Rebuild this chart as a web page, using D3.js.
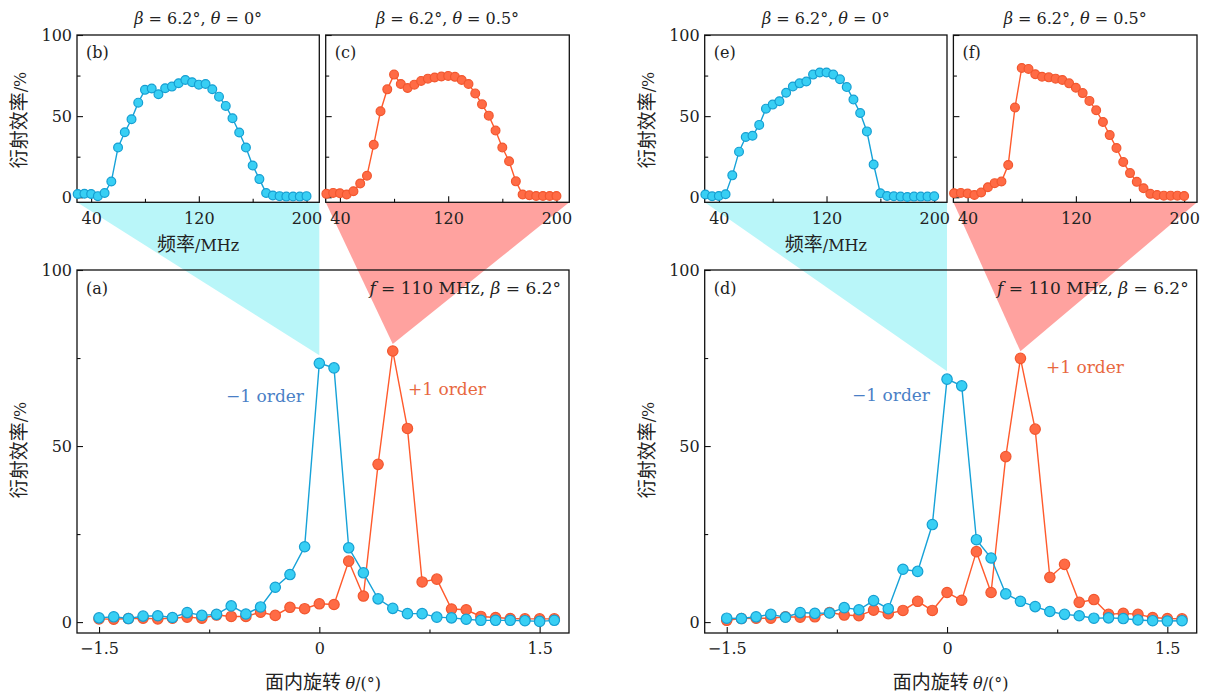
<!doctype html>
<html>
<head>
<meta charset="utf-8"/>
<script src="https://cdnjs.cloudflare.com/ajax/libs/d3/7.8.5/d3.min.js"></script>
<style>
  body { margin: 0; background: #fff; }
  svg { display: block; }
  text { font-family: "DejaVu Serif", "Liberation Serif", serif; fill: #222; }
  .cjk { font-family: "Noto Sans CJK SC", sans-serif; }
  .frame { fill: none; stroke: #111; stroke-width: 1.3px; }
  .tick line { stroke: #111; stroke-width: 1.1px; }
</style>
</head>
<body>
<svg width="1205" height="695"></svg>
<script>
// ---- data ----
var theta = [-1.5,-1.4,-1.3,-1.2,-1.1,-1.0,-0.9,-0.8,-0.7,-0.6,-0.5,-0.4,-0.3,-0.2,-0.1,
             0,0.1,0.2,0.3,0.4,0.5,0.6,0.7,0.8,0.9,1.0,1.1,1.2,1.3,1.4,1.5,1.6];
var freq = [30,35,40,45,50,55,60,65,70,75,80,85,90,95,100,105,110,115,120,125,
            130,135,140,145,150,155,160,165,170,175,180,185,190,195,200];

// (a) and (d): efficiency vs in-plane rotation, f = 110 MHz
var aMinus1 = [1.2,1.5,1.0,1.7,1.8,1.3,2.7,1.9,2.2,4.6,2.3,4.3,9.9,13.5,21.4,
               73.5,72.2,21.1,14.0,6.6,3.9,2.4,2.4,1.4,1.2,0.8,0.5,0.5,0.5,0.4,0.2,0.5];
var aPlus1  = [0.9,0.8,1.0,1.1,0.9,1.1,1.4,1.1,2.0,1.6,1.6,2.8,1.9,4.2,3.8,
               5.2,5.0,17.3,7.4,44.8,77.0,55.0,11.4,12.2,3.7,3.5,1.6,1.3,1.0,0.9,0.9,0.9];
var dMinus1 = [1.1,1.0,1.5,2.2,1.4,2.7,2.5,2.6,4.1,3.5,6.1,3.8,15.0,14.4,27.7,
               69.0,67.1,23.4,18.2,8.0,5.9,4.4,3.0,2.2,1.8,1.1,1.2,1.0,0.6,0.4,0.3,0.4];
var dPlus1  = [0.5,1.0,1.1,1.1,1.5,1.4,1.5,2.7,2.0,1.8,3.4,2.4,3.3,5.9,3.3,
               8.4,6.2,20.0,8.4,47.0,74.9,54.8,12.7,16.4,5.6,6.4,2.2,2.5,2.2,1.3,1.0,0.9];

// (b)(c)(e)(f): efficiency vs frequency
var bMinus1 = [2.0,2.2,2.0,0.7,2.6,9.7,30.7,40.1,48.1,58.3,66.2,67.0,63.5,67.2,68.2,70.3,72.3,70.9,
               69.4,69.8,66.6,62.0,56.3,48.7,39.9,30.7,19.6,11.2,2.6,1.1,0.7,0.4,0.5,0.4,0.7];
var cPlus1  = [2.1,2.7,2.5,1.7,3.7,8.5,13.3,32.4,53.0,66.5,75.6,69.8,67.3,69.4,71.7,73.1,73.8,74.4,
               74.8,74.2,72.3,69.8,64.0,57.3,50.3,41.1,30.7,22.2,9.8,1.7,1.2,0.8,0.8,0.8,0.8];
var eMinus1 = [1.7,0.6,0.8,1.9,13.5,28.1,37.1,37.9,44.6,54.6,57.1,59.2,64.4,68.3,70.2,71.3,75.6,76.9,
               76.9,75.6,72.7,67.9,60.2,51.9,40.6,20.2,2.5,0.8,0.6,0.4,0.2,0.4,0.4,0.4,0.6];
var fPlus1  = [2.5,2.7,2.3,1.4,2.9,6.2,8.7,9.7,19.9,55.3,79.7,79.1,75.8,74.3,73.9,73.1,72.3,70.2,
               67.5,64.2,59.4,53.6,46.4,38.3,30.4,21.7,14.9,9.5,5.6,2.1,1.4,1.0,1.0,1.0,0.8];

var thetaTicks = [-1.5, 0, 1.5], thetaMinor = [-0.75, 0.75];
var freqTicks = [40, 120, 200], freqMinor = [80, 160];
var effTicks = [0, 50, 100], effMinor = [25, 75];

var blue = {line: "#16a2d8", fill: "#38cff4", stroke: "#169fd2", text: "#4a7fc6"};
var orange = {line: "#ff5a2c", fill: "#ff6b45", stroke: "#f2572f", text: "#e8683f"};

var FS = 16, FS2 = 17, CJK = 19;
var svg = d3.select("svg");
var gShade = svg.append("g");
var gPlot = svg.append("g");

var fmt = function(d) { return d3.format("")(d).replace("-", "\u2212\u2009"); };

function label(g, x, y, parts, anchor, size, color) {
  var t = g.append("text").attr("x", x).attr("y", y)
    .attr("text-anchor", anchor || "start")
    .style("font-size", (size || FS) + "px");
  if (color) t.style("fill", color);
  parts.forEach(function(p) {
    var s = t.append("tspan").text(p[0]);
    if (p[1] === "i") s.style("font-style", "italic");
    if (p[1] === "c") s.attr("class", "cjk").style("font-size", CJK + "px");
  });
  return t;
}

function styleAxis(a) {
  a.select(".domain").remove();
  a.selectAll("text").style("font-size", FS + "px").style("font-family", null).attr("fill", "#222");
}

function panel(box, xdom, xt, xm, series, showY) {
  var x = d3.scaleLinear().domain(xdom).range([box.x0, box.x1]);
  var y = d3.scaleLinear().domain([-3.1, 100]).range([box.y1, box.y0]);
  var g = gPlot.append("g");

  g.append("g").attr("transform", "translate(0," + box.y1 + ")")
    .call(d3.axisBottom(x).tickValues(xt).tickSize(-6).tickPadding(10).tickFormat(fmt))
    .call(styleAxis);
  g.append("g").attr("transform", "translate(0," + box.y1 + ")")
    .call(d3.axisBottom(x).tickValues(xm).tickSize(-3.5).tickFormat(""))
    .call(styleAxis);
  g.append("g").attr("transform", "translate(" + box.x0 + ",0)")
    .call(d3.axisLeft(y).tickValues(effTicks).tickSize(-6).tickPadding(5).tickFormat(showY ? fmt : ""))
    .call(styleAxis);
  g.append("g").attr("transform", "translate(" + box.x0 + ",0)")
    .call(d3.axisLeft(y).tickValues(effMinor).tickSize(-3.5).tickFormat(""))
    .call(styleAxis);

  g.append("rect").attr("class", "frame")
    .attr("x", box.x0).attr("y", box.y0)
    .attr("width", box.x1 - box.x0).attr("height", box.y1 - box.y0);

  series.forEach(function(s) {
    var pts = s.xs.map(function(v, i) { return [v, s.ys[i]]; });
    g.append("path").datum(pts)
      .attr("fill", "none").attr("stroke", s.c.line).attr("stroke-width", 1.4)
      .attr("d", d3.line().x(function(d) { return x(d[0]); }).y(function(d) { return y(d[1]); }));
    g.selectAll(null).data(pts).enter().append("circle")
      .attr("cx", function(d) { return x(d[0]); })
      .attr("cy", function(d) { return y(d[1]); })
      .attr("r", s.r)
      .attr("fill", s.c.fill).attr("stroke", s.c.stroke).attr("stroke-width", 1.2);
  });
  return {x: x, y: y, g: g, box: box};
}

function side(dx, mMinus, mPlus, iMinus, iPlus, letters) {
  var mainBox = {x0: 77 + dx, x1: 569 + dx, y0: 270, y1: 633};
  var boxL = {x0: 77 + dx, x1: 319.3 + dx, y0: 35, y1: 202.3};
  var boxR = {x0: 325.7 + dx, x1: 569.3 + dx, y0: 35, y1: 202.3};
  var fdom = [29.5, 209.5];

  var m = panel(mainBox, [-1.65, 1.70], thetaTicks, thetaMinor,
    [{xs: theta, ys: mPlus, c: orange, r: 5.2}, {xs: theta, ys: mMinus, c: blue, r: 5.2}], true);
  var l = panel(boxL, fdom, freqTicks, freqMinor, [{xs: freq, ys: iMinus, c: blue, r: 4.4}], true);
  var r = panel(boxR, fdom, freqTicks, freqMinor, [{xs: freq, ys: iPlus, c: orange, r: 4.4}], false);

  // shaded zoom wedges from the insets down to the measured points
  var i0 = theta.indexOf(0), i5 = theta.indexOf(0.5);
  var ax = m.x(0), ay = m.y(mMinus[i0]) - 8;
  var bx = m.x(0.5), by = m.y(mPlus[i5]) - 7;
  gShade.append("path")
    .attr("d", d3.line()([[boxL.x0, boxL.y1], [boxL.x1, boxL.y1], [ax, ay]]))
    .attr("fill", "#b9f6f9");
  gShade.append("path")
    .attr("d", d3.line()([[boxR.x0, boxR.y1], [boxR.x1, boxR.y1], [bx, by]]))
    .attr("fill", "#ffa29f");

  // texts
  var t = gPlot.append("g");
  label(t, (boxL.x0 + boxL.x1) / 2, 24, [["\u03b2", "i"], [" = 6.2\u00b0, "], ["\u03b8", "i"], [" = 0\u00b0"]], "middle");
  label(t, (boxR.x0 + boxR.x1) / 2, 24, [["\u03b2", "i"], [" = 6.2\u00b0, "], ["\u03b8", "i"], [" = 0.5\u00b0"]], "middle");
  label(t, boxL.x0 + 9, 58, [["(" + letters[1] + ")"]], "start");
  label(t, boxR.x0 + 9, 58, [["(" + letters[2] + ")"]], "start");
  label(t, mainBox.x0 + 9, 294, [["(" + letters[0] + ")"]], "start");
  label(t, mainBox.x1 - 8, 294, [["f", "i"], [" = 110 MHz, "], ["\u03b2", "i"], [" = 6.2\u00b0"]], "end", FS2);
  label(t, (boxL.x0 + boxL.x1) / 2, 251, [["频率", "c"], ["/MHz"]], "middle");
  label(t, (mainBox.x0 + mainBox.x1) / 2, 689, [["面内旋转 ", "c"], ["\u03b8", "i"], ["/(\u00b0)"]], "middle");
  [[120, 20], [450, 20]].forEach(function(p) {
    label(t, 0, 0, [["衍射效率", "c"], ["/%"]], "middle")
      .attr("transform", "translate(" + (p[1] + dx + 6) + "," + p[0] + ") rotate(-90)");
  });
  return m;
}

var left = side(0, aMinus1, aPlus1, bMinus1, cPlus1, ["a", "b", "c"]);
label(left.g, 304, 402, [["\u2212" + "1 order"]], "end", FS2, blue.text);
label(left.g, 408, 395, [["+1 order"]], "start", FS2, orange.text);

var right = side(627.7, dMinus1, dPlus1, eMinus1, fPlus1, ["d", "e", "f"]);
label(right.g, 930, 401, [["\u2212" + "1 order"]], "end", FS2, blue.text);
label(right.g, 1046, 373, [["+1 order"]], "start", FS2, orange.text);
</script>
</body>
</html>
